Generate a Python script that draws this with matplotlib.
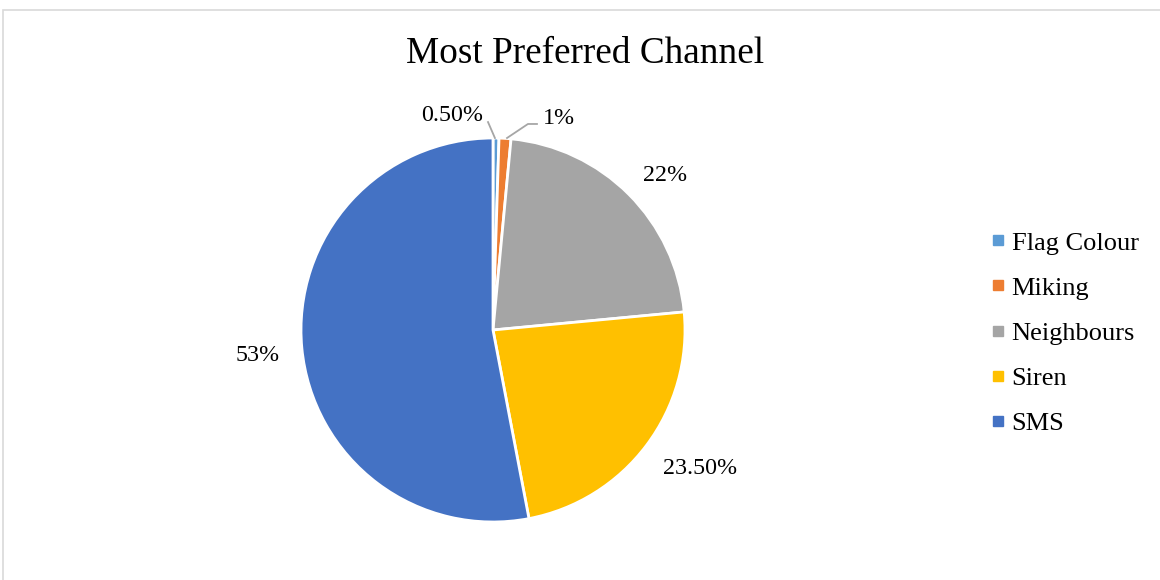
import matplotlib.pyplot as plt
from matplotlib.lines import Line2D
from matplotlib.patches import Rectangle

plt.rcParams['font.family'] = ['Liberation Serif', 'DejaVu Serif']

# data
channels = ['Flag Colour', 'Miking', 'Neighbours', 'Siren', 'SMS']
shares = [0.5, 1, 22, 23.5, 53]
colors = ['#5B9BD5', '#ED7D31', '#A5A5A5', '#FFC000', '#4472C4']

def pct(v):
    return '%d%%' % v if float(v).is_integer() else '%.2f%%' % v

# label anchor points (pie radius = 1)
label_pos = [(-0.214, 1.115), (0.26, 1.104), (0.896, 0.807), (1.078, -0.719), (-1.224, -0.135)]
label_ha = ['center', 'left', 'center', 'center', 'center']

W, H = 1160, 580
fig = plt.figure(figsize=(W / 100, H / 100), dpi=100)

# chart area border
fig.patches.append(Rectangle((3 / W, -0.1), 1.2, 1 - 10 / H + 0.1, transform=fig.transFigure,
                             fill=False, edgecolor='#D9D9D9', linewidth=1.2, clip_on=False))

cx, cy, R = 493, 250, 192
k = 1.5
side = 2 * k * R
ax = fig.add_axes([(cx - side / 2) / W, (cy - side / 2) / H, side / W, side / H])

wedges, _ = ax.pie(shares, colors=colors, startangle=90, counterclock=False, radius=1,
                   wedgeprops=dict(edgecolor='white', linewidth=2))
ax.set_xlim(-k, k)
ax.set_ylim(-k, k)
ax.axis('off')

for v, (x, y), ha in zip(shares, label_pos, label_ha):
    ax.text(x, y, pct(v), ha=ha, va='center', fontsize=17.3, color='black', clip_on=False)

# leader lines for the two thin slices
ax.plot([-0.026, 0.010], [1.083, 1.0], color='#A6A6A6', lw=1.3, clip_on=False)
ax.plot([0.229, 0.182, 0.073], [1.073, 1.073, 1.0], color='#A6A6A6', lw=1.3, clip_on=False)

fig.text(585 / W, 1 - 54 / H, 'Most Preferred Channel', ha='center', va='center',
         fontsize=26.8, color='black')

handles = [Line2D([], [], marker='s', linestyle='none', markersize=6.5,
                  markerfacecolor=c, markeredgecolor=c) for c in colors]
fig.legend(handles, channels, loc='center left', bbox_to_anchor=(991 / W, 1 - 333 / H),
           frameon=False, fontsize=19, handlelength=0.5, handletextpad=0.28,
           labelspacing=0.82, borderpad=0, borderaxespad=0, labelcolor='black')

fig.savefig('out.png', dpi=100)
